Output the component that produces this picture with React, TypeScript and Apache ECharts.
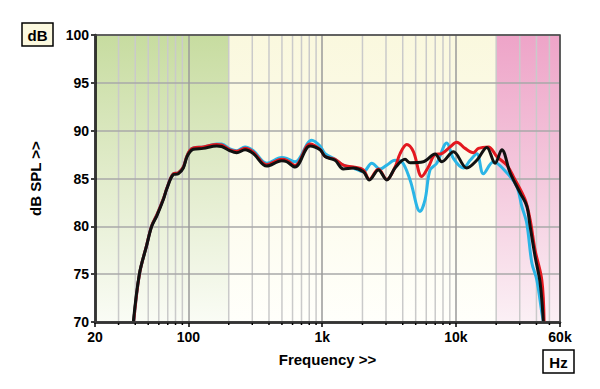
import React, { useEffect, useRef } from "react";
import * as echarts from "echarts";

// Axis ticks
const xMin = 20;
const xMax = 60000;
const yMin = 70;
const yMax = 100;
const yStep = 5;
const minorFreqs = [
  30, 40, 50, 60, 70, 80, 90,
  200, 300, 400, 500, 600, 700, 800, 900,
  2000, 3000, 4000, 5000, 6000, 7000, 8000, 9000,
  20000, 30000, 40000, 50000,
];
// Background bands (frequency ranges)
const bandStarts = [20, 200, 20000];
const bandEnds = [200, 20000, 60000];

// Black curve
const blackFreq = [38.7, 42.9, 48.7, 53.1, 58, 64.9, 68.8, 77, 84, 91.5, 97, 102.7, 108.7, 129, 162.7, 177, 204, 229.6, 264.8, 305.5, 384.9, 498, 543, 627, 811, 964, 1051, 1248, 1439, 1710, 2031, 2253, 2630, 3040, 3506, 4164, 4540, 5708, 6982, 7838, 9572, 12054, 14318, 17012, 19626, 22030, 25400, 30192, 33876, 35860, 39080, 42600, 45080];
const blackDb = [70, 75, 78, 80, 81.1, 82.8, 83.9, 85.4, 85.5, 86.1, 87.2, 87.8, 88.05, 88.15, 88.4, 88.35, 87.9, 87.7, 88.0, 87.6, 86.3, 86.85, 86.75, 86.2, 88.4, 88.0, 87.3, 86.9, 86.0, 86.1, 85.7, 84.85, 85.9, 84.85, 86.1, 87.0, 86.65, 86.75, 87.55, 86.75, 87.8, 86.1, 86.9, 88.25, 86.6, 88.0, 85.6, 83.5, 82.1, 80.0, 76.85, 74.1, 70];

// Red curve
const redFreq = [38.9, 43, 48.8, 53.2, 58, 65, 69, 77, 84, 91.5, 97, 102.7, 108.7, 129, 162.7, 177, 204, 229.6, 264.8, 305.5, 384.9, 498, 543, 627, 811, 964, 1051, 1248, 1439, 1710, 2031, 2253, 2630, 3040, 3506, 3822, 4290, 4806, 5552, 6222, 6982, 7838, 9042, 10150, 11708, 13504, 14722, 17490, 20208, 24010, 26900, 32900, 35860, 39080, 43860, 45640];
const redDb = [70, 75, 78.1, 80.1, 81.2, 82.9, 84, 85.5, 85.6, 86.2, 87.3, 87.95, 88.2, 88.3, 88.55, 88.5, 88.0, 87.85, 88.15, 87.75, 86.45, 87.0, 86.9, 86.35, 88.6, 88.05, 87.3, 87.0, 86.4, 86.2, 85.9, 84.9, 86.0, 84.9, 86.2, 87.6, 88.55, 87.8, 85.2, 86.2, 87.5, 87.6, 88.3, 88.8, 88.15, 87.7, 88.15, 88.3, 87.3, 86.4, 85.2, 82.8, 80.7, 77.5, 74.4, 70];

// Blue curve
const blueFreq = [38.9, 43, 48.8, 53.2, 58, 65, 69, 77, 84, 91.5, 97, 102.7, 108.7, 129, 162.7, 177, 204, 229.6, 264.8, 305.5, 384.9, 498, 543, 627, 835, 964, 1051, 1248, 1439, 1710, 2031, 2348, 2708, 3040, 3506, 3936, 4540, 5392, 5878, 6406, 7190, 8542, 9572, 11370, 12760, 14318, 16046, 19056, 24010, 28520, 31080, 33876, 36920, 40240, 43860, 45080];
const blueDb = [70, 75, 78.1, 80.1, 81.2, 82.9, 84, 85.5, 85.6, 86.2, 87.3, 87.95, 88.2, 88.3, 88.6, 88.6, 88.1, 87.9, 88.3, 87.9, 86.6, 87.2, 87.1, 86.75, 89.0, 88.4, 87.6, 87.0, 86.4, 86.1, 85.7, 86.6, 86.0, 86.4, 86.9, 86.75, 84.85, 81.55, 82.8, 85.9, 86.6, 88.7, 87.1, 86.1, 86.9, 87.6, 85.5, 86.75, 85.6, 84.15, 82.1, 80.3, 76.2, 74.4, 71.0, 70];

const FONT = "'Liberation Sans', Arial, sans-serif";

function zip(f: number[], d: number[]) {
  return f.map((v, i) => [v, d[i]]);
}

const bandGradients = [
  [
    { offset: 0, color: "#C7DCA0" },
    { offset: 0.5, color: "#E2ECCC" },
    { offset: 1, color: "#FAFCF5" },
  ],
  [
    { offset: 0, color: "#FAF8DE" },
    { offset: 0.6, color: "#FDFCEE" },
    { offset: 1, color: "#FFFFFB" },
  ],
  [
    { offset: 0, color: "#EEA4C8" },
    { offset: 0.5, color: "#F4C9DD" },
    { offset: 1, color: "#FBF0F5" },
  ],
];

export default function App() {
  const ref = useRef<HTMLDivElement>(null);

  useEffect(() => {
    if (!ref.current) return;
    const chart = echarts.init(ref.current, undefined, { renderer: "svg" });

    const option: any = {
      animation: false,
      backgroundColor: "#ffffff",
      grid: {
        left: 95,
        right: 40,
        top: 35,
        bottom: 67,
        show: true,
        z: 10,
        backgroundColor: "transparent",
        borderColor: "#444",
        borderWidth: 1.5,
      },
      xAxis: {
        type: "log",
        logBase: 10,
        min: xMin,
        max: xMax,
        z: 4,
        name: "Frequency >>",
        nameLocation: "middle",
        nameGap: 30,
        nameTextStyle: { fontFamily: FONT, fontWeight: "bold", fontSize: 15, color: "#000" },
        axisLine: { show: true, lineStyle: { color: "#000", width: 2.5 } },
        axisTick: { show: true, length: 5, lineStyle: { color: "#000", width: 1.5 } },
        axisLabel: {
          show: true,
          margin: 8,
          showMinLabel: true,
          showMaxLabel: true,
          fontFamily: FONT,
          fontWeight: "bold",
          fontSize: 14,
          color: "#000",
          formatter: (v: number) => {
            const r = Math.round(v);
            return r >= 1000 ? r / 1000 + "k" : String(r);
          },
        },
        splitLine: { show: true, lineStyle: { color: "#9a9a9a", width: 1.5 } },
      },
      yAxis: {
        type: "value",
        min: yMin,
        max: yMax,
        interval: yStep,
        z: 4,
        name: "dB SPL >>",
        nameLocation: "middle",
        nameGap: 52,
        nameTextStyle: { fontFamily: FONT, fontWeight: "bold", fontSize: 15, color: "#000" },
        axisLine: { show: true, lineStyle: { color: "#000", width: 2.5 } },
        axisTick: { show: true, length: 4, lineStyle: { color: "#000", width: 1.5 } },
        axisLabel: {
          margin: 6,
          fontFamily: FONT,
          fontWeight: "bold",
          fontSize: 14,
          color: "#000",
        },
        splitLine: { show: true, lineStyle: { color: "#a8a8a8", width: 1.5 } },
      },
      graphic: [
        {
          type: "rect",
          shape: { x: 22, y: 23, width: 31, height: 23 },
          style: { fill: "#FCF9DF", stroke: "#000", lineWidth: 1.5 },
          z: 20,
        },
        {
          type: "text",
          x: 37.5,
          y: 35,
          style: {
            text: "dB",
            fill: "#000",
            font: `bold 15px ${FONT}`,
            align: "center",
            verticalAlign: "middle",
          },
          z: 21,
        },
        {
          type: "rect",
          shape: { x: 543, y: 350, width: 31, height: 23 },
          style: { fill: "#fff", stroke: "#000", lineWidth: 1.5 },
          z: 20,
        },
        {
          type: "text",
          x: 558.5,
          y: 362,
          style: {
            text: "Hz",
            fill: "#000",
            font: `bold 15px ${FONT}`,
            align: "center",
            verticalAlign: "middle",
          },
          z: 21,
        },
      ],
      series: [
        {
          type: "custom",
          z: 1,
          silent: true,
          data: bandStarts.map((s, i) => [s, bandEnds[i], i]),
          encode: { x: [0, 1] },
          renderItem: (params: any, api: any) => {
            const a = api.coord([api.value(0), yMax]);
            const b = api.coord([api.value(1), yMin]);
            const idx = api.value(2);
            return {
              type: "rect",
              shape: { x: a[0], y: a[1], width: b[0] - a[0], height: b[1] - a[1] },
              style: {
                fill: new echarts.graphic.LinearGradient(0, 0, 0, 1, bandGradients[idx]),
              },
            };
          },
        },
        {
          type: "custom",
          z: 3,
          silent: true,
          data: minorFreqs.map((f) => [f, yMin]),
          encode: { x: 0, y: 1 },
          renderItem: (params: any, api: any) => {
            const bot = api.coord([api.value(0), yMin]);
            const top = api.coord([api.value(0), yMax]);
            return {
              type: "group",
              children: [
                {
                  type: "line",
                  shape: { x1: top[0], y1: top[1], x2: bot[0], y2: bot[1] },
                  style: { stroke: "#CACACA", lineWidth: 1.5 },
                },
                {
                  type: "line",
                  shape: { x1: bot[0], y1: bot[1], x2: bot[0], y2: bot[1] + 3 },
                  style: { stroke: "#000", lineWidth: 1.5 },
                },
              ],
            };
          },
        },
        {
          name: "blue",
          type: "line",
          z: 5,
          data: zip(blueFreq, blueDb),
          showSymbol: false,
          symbol: "none",
          smooth: 0.35,
          lineStyle: { color: "#2BB5E6", width: 3 },
        },
        {
          name: "red",
          type: "line",
          z: 5,
          data: zip(redFreq, redDb),
          showSymbol: false,
          symbol: "none",
          smooth: 0.35,
          lineStyle: { color: "#E3181F", width: 3 },
        },
        {
          name: "black",
          type: "line",
          z: 5,
          data: zip(blackFreq, blackDb),
          showSymbol: false,
          symbol: "none",
          smooth: 0.35,
          lineStyle: { color: "#111111", width: 3 },
        },
      ],
    };

    chart.setOption(option);
    return () => chart.dispose();
  }, []);

  return (
    <div
      ref={ref}
      style={{ position: "fixed", left: 0, top: 0, width: 600, height: 389, background: "#fff" }}
    />
  );
}
